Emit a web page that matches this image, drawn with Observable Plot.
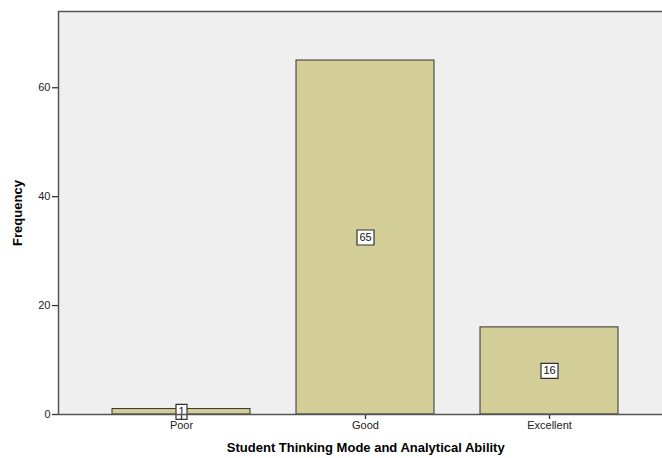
<!DOCTYPE html>
<html>
<head>
<meta charset="utf-8">
<script src="https://cdn.jsdelivr.net/npm/d3@7"></script>
<script src="https://cdn.jsdelivr.net/npm/@observablehq/plot@0.6"></script>
<style>
  html, body { margin: 0; padding: 0; background: #fff; }
  #chart svg { font-family: "Liberation Sans", Arial, sans-serif; }
  g[aria-label="x-axis label"] text, g[aria-label="y-axis label"] text { font-weight: bold; font-size: 13px; fill: #000; }
</style>
</head>
<body>
<div id="chart"></div>
<script>
const categories = ["Poor", "Good", "Excellent"];
const frequencies = [1, 65, 16];
const yTicks = [0, 20, 40, 60];

const data = categories.map((c, i) => ({category: c, value: frequencies[i], label: String(frequencies[i])}));

const boxSymbol = (w, h) => ({draw(ctx) { ctx.rect(-w / 2, -h / 2, w, h); }});
const narrowBox = boxSymbol(11, 15);
const wideBox = boxSymbol(17, 15);

const chart = Plot.plot({
  width: 662,
  height: 458,
  marginLeft: 58,
  marginRight: -10.5,
  marginTop: 11,
  marginBottom: 44,
  style: {fontFamily: "Liberation Sans, Arial, sans-serif", fontSize: "11px", color: "#222", background: "#fff"},
  x: {domain: categories, paddingInner: 0.25, paddingOuter: 0.29, label: null},
  y: {domain: [0, 74], label: null},
  marks: [
    Plot.frame({fill: "#efefef", stroke: null}),
    Plot.barY(data, {x: "category", y: "value", fill: "#d3ce97", stroke: "#333", strokeWidth: 1}),
    Plot.dot(data.filter(d => d.label.length < 2), {x: "category", y: d => d.value / 2, symbol: narrowBox, fill: "#fff", stroke: "#333", strokeWidth: 1.2}),
    Plot.dot(data.filter(d => d.label.length >= 2), {x: "category", y: d => d.value / 2, symbol: wideBox, fill: "#fff", stroke: "#333", strokeWidth: 1.2}),
    Plot.text(data, {x: "category", y: d => d.value / 2, text: "label", fill: "#111", fontSize: 11}),
    Plot.axisY({ticks: yTicks, tickSize: 6, tickPadding: 2, stroke: "#333", strokeWidth: 1.3, label: "Frequency", labelAnchor: "center", labelArrow: "none", labelOffset: 46}),
    Plot.axisX({tickSize: 5, tickPadding: 2, stroke: "#333", strokeWidth: 1.3, label: "Student Thinking Mode and Analytical Ability", labelAnchor: "center", labelArrow: "none", labelOffset: 37}),
    Plot.frame({stroke: "#555", strokeWidth: 1.5, fill: null})
  ]
});
document.getElementById("chart").appendChild(chart);
</script>
</body>
</html>
